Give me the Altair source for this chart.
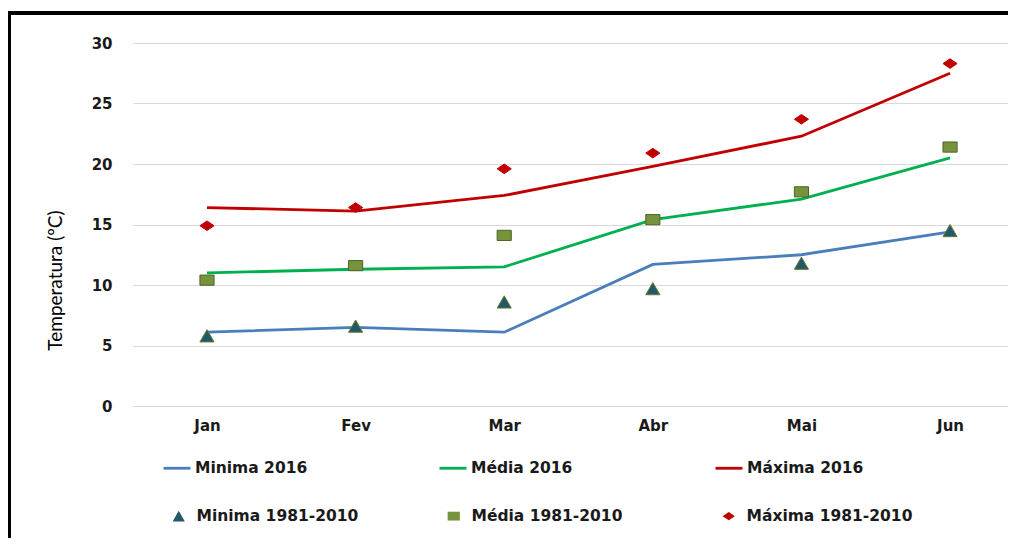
import altair as alt
import pandas as pd

months = ["Jan", "Fev", "Mar", "Abr", "Mai", "Jun"]
line_series = ["Minima 2016", "Média 2016", "Máxima 2016"]
point_series = ["Minima 1981-2010", "Média 1981-2010", "Máxima 1981-2010"]

min_2016 = [6.1, 6.5, 6.1, 11.7, 12.5, 14.4]
med_2016 = [11.0, 11.3, 11.5, 15.4, 17.1, 20.5]
max_2016 = [16.4, 16.1, 17.4, 19.8, 22.3, 27.5]
min_8110 = [5.8, 6.6, 8.6, 9.7, 11.8, 14.5]
med_8110 = [10.4, 11.6, 14.1, 15.4, 17.7, 21.4]
max_8110 = [14.9, 16.4, 19.6, 20.9, 23.7, 28.3]

line_colors = ["#4A7EBB", "#00B050", "#C00000"]
point_fills = ["#215968", "#77933C", "#C00000"]
point_strokes = ["#6B7A2E", "#4F6228", "#C00000"]
point_shapes = ["triangle-up", "M-1,-0.72H1V0.72H-1Z", "M-1,0L0,-0.68L1,0L0,0.68Z"]

rows_l = []
for name, vals in zip(line_series, [min_2016, med_2016, max_2016]):
    for i, (m, v) in enumerate(zip(months, vals)):
        rows_l.append({"i": i, "mes": m, "serie": name, "valor": v})
df_l = pd.DataFrame(rows_l)

rows_p = []
for name, vals in zip(point_series, [min_8110, med_8110, max_8110]):
    for i, (m, v) in enumerate(zip(months, vals)):
        rows_p.append({"i": i, "mes": m, "serie_p": name, "valor": v})
df_p = pd.DataFrame(rows_p)

FONT = "DejaVu Sans"
month_expr = "[" + ",".join("'%s'" % m for m in months) + "][datum.value]"

x_enc = alt.X(
    "i:Q",
    scale=alt.Scale(domain=[-0.498, 5.39], nice=False, zero=False),
    axis=alt.Axis(
        title=None, values=list(range(len(months))), labelExpr=month_expr,
        labelAngle=0, ticks=False, domain=False, grid=False,
        labelFont=FONT, labelFontWeight="bold", labelFontSize=15,
        labelColor="#1a1a1a", labelPadding=12,
    ),
)
y_enc = alt.Y(
    "valor:Q",
    scale=alt.Scale(domain=[0, 30], nice=False),
    axis=alt.Axis(
        title="Temperatura (ºC)", values=[0, 5, 10, 15, 20, 25, 30],
        ticks=False, domain=False, grid=True, gridColor="#D9D9D9", gridWidth=1,
        labelFont=FONT, labelFontWeight="bold", labelFontSize=15,
        labelColor="#1a1a1a", labelPadding=21,
        titleFont="Liberation Sans Narrow, Lato", titleFontSize=19,
        titleFontWeight="normal", titleColor="#000000",
        titleX=-78, titleY=237, titleAlign="center", titleBaseline="middle",
    ),
)

lines = alt.Chart(df_l).mark_line(strokeWidth=2.8).encode(
    x=x_enc,
    y=y_enc,
    stroke=alt.Stroke(
        "serie:N",
        scale=alt.Scale(domain=line_series, range=line_colors),
        legend=alt.Legend(
            title=None, orient="none", legendX=29, legendY=410,
            direction="horizontal", columns=3, gridAlign="all",
            columnPadding=121, padding=0, labelLimit=300,
            symbolType="stroke", symbolSize=729, symbolStrokeWidth=2.8,
            labelOffset=3, labelFont=FONT, labelFontWeight="bold",
            labelFontSize=15.5, labelColor="#1a1a1a",
        ),
    ),
)

points = alt.Chart(df_p).mark_point(filled=True, size=200, strokeWidth=1, opacity=1).encode(
    x="i:Q",
    y="valor:Q",
    fill=alt.Fill(
        "serie_p:N",
        scale=alt.Scale(domain=point_series, range=point_fills),
        legend=alt.Legend(
            title=None, orient="none", legendX=38, legendY=465,
            direction="horizontal", columns=3, gridAlign="all",
            columnPadding=81, padding=0, symbolSize=150, labelLimit=300,
            labelOffset=10, labelFont=FONT, labelFontWeight="bold",
            labelFontSize=15.5, labelColor="#1a1a1a",
        ),
    ),
    shape=alt.Shape(
        "serie_p:N",
        scale=alt.Scale(domain=point_series, range=point_shapes),
    ),
    stroke=alt.Stroke(
        "serie_p:N",
        scale=alt.Scale(domain=point_series, range=point_strokes),
        legend=None,
    ),
)

frame_left = alt.Chart(pd.DataFrame({"k": [0]})).mark_rule(color="black", strokeWidth=4).encode(
    x=alt.value(-124), y=alt.value(-30), y2=alt.value(700)
)
frame_top = alt.Chart(pd.DataFrame({"k": [0]})).mark_rule(color="black", strokeWidth=4).encode(
    x=alt.value(-126), x2=alt.value(900), y=alt.value(-30)
)

chart = (
    alt.layer(lines, points, frame_left, frame_top)
    .resolve_scale(stroke="independent")
    .properties(
        width=875, height=363,
        autosize=alt.AutoSizeParams(type="none"),
        padding={"left": 125, "top": 35, "right": 0, "bottom": 132},
        background="white",
    )
    .configure_view(strokeWidth=0)
)

chart.save("out.html", embed_options={"renderer": "svg", "actions": False})
